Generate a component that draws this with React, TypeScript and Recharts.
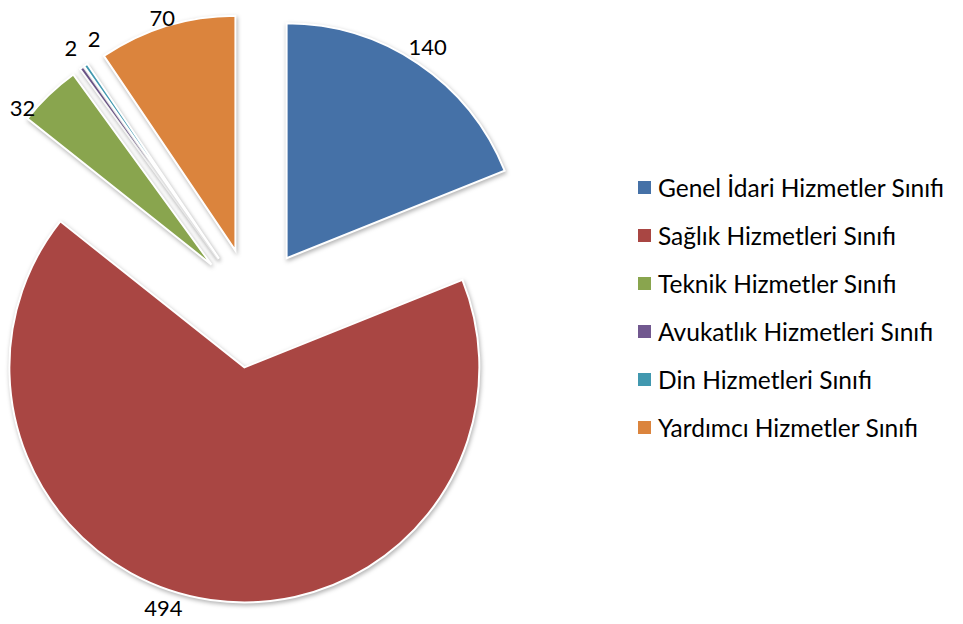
import { PieChart, Pie, Cell, Legend } from 'recharts'

const categories = [
  'Genel İdari Hizmetler Sınıfı',
  'Sağlık Hizmetleri Sınıfı',
  'Teknik Hizmetler Sınıfı',
  'Avukatlık Hizmetleri Sınıfı',
  'Din Hizmetleri Sınıfı',
  'Yardımcı Hizmetler Sınıfı',
]
const counts = [140, 494, 32, 2, 2, 70]
const colors = ['#4571A7', '#A94643', '#89A54E', '#71588F', '#4198AF', '#DB843D']

const data = categories.map((name, i) => ({ name, value: counts[i] }))

const FONT = 'Lato, "Open Sans", sans-serif'
const EXPLODE = 60
const RADIUS = 235

// small hand nudges so labels sit where excel put them
const labelNudge: [number, number][] = [
  [1, -5],
  [-45, -7],
  [-16, 23],
  [-2, -8],
  [17, -14],
  [0, 6],
]

const total = counts.reduce((a, b) => a + b, 0)
let acc = 0
const offsets = counts.map(v => {
  const mid = ((acc + v / 2) / total) * 2 * Math.PI
  acc += v
  return [EXPLODE * Math.sin(mid), -EXPLODE * Math.cos(mid)]
})

const RAD = Math.PI / 180

const renderLabel = (props: any) => {
  const { cx, cy, midAngle, outerRadius, value, index } = props
  const r = EXPLODE + outerRadius + 15
  const x = cx + r * Math.cos(-midAngle * RAD) + labelNudge[index][0]
  const y = cy + r * Math.sin(-midAngle * RAD) + labelNudge[index][1]
  return (
    <text x={x} y={y} textAnchor="middle" dominantBaseline="central" fill="#000" fontSize={22} fontFamily={FONT}>
      {value}
    </text>
  )
}

// keep the series order (recharts sorts legend items by name otherwise)
const renderLegend = () => (
  <div style={{ fontFamily: FONT, fontSize: 24.5, color: '#000' }}>
    {categories.map((name, i) => (
      <div key={`item-${i}`} style={{ display: 'flex', alignItems: 'center', height: 48 }}>
        <span style={{ display: 'inline-block', width: 13, height: 13, background: colors[i], marginRight: 7 }} />
        <span style={{ whiteSpace: 'nowrap' }}>{name}</span>
      </div>
    ))}
  </div>
)

export default function App() {
  return (
    <div style={{ position: 'absolute', left: 0, top: 0, width: 963, height: 624 }}>
      <PieChart width={963} height={624} margin={{ top: 0, right: 0, bottom: 0, left: 0 }}>
        <Pie
          data={data}
          dataKey="value"
          nameKey="name"
          cx={253}
          cy={308}
          outerRadius={RADIUS}
          startAngle={90}
          endAngle={-270}
          stroke="#fff"
          strokeWidth={2}
          label={renderLabel}
          labelLine={false}
          isAnimationActive={false}
        >
          {data.map((entry, index) => (
            <Cell
              key={`cell-${index}`}
              fill={colors[index]}
              style={{
                transform: `translate(${offsets[index][0]}px, ${offsets[index][1]}px)`,
                filter: 'drop-shadow(1px 2px 2px rgba(0,0,0,0.3))',
              }}
            />
          ))}
        </Pie>
        <Legend
          layout="vertical"
          align="right"
          verticalAlign="top"
          content={renderLegend}
          wrapperStyle={{ left: 638, top: 163, width: 325 }}
        />
      </PieChart>
    </div>
  )
}
